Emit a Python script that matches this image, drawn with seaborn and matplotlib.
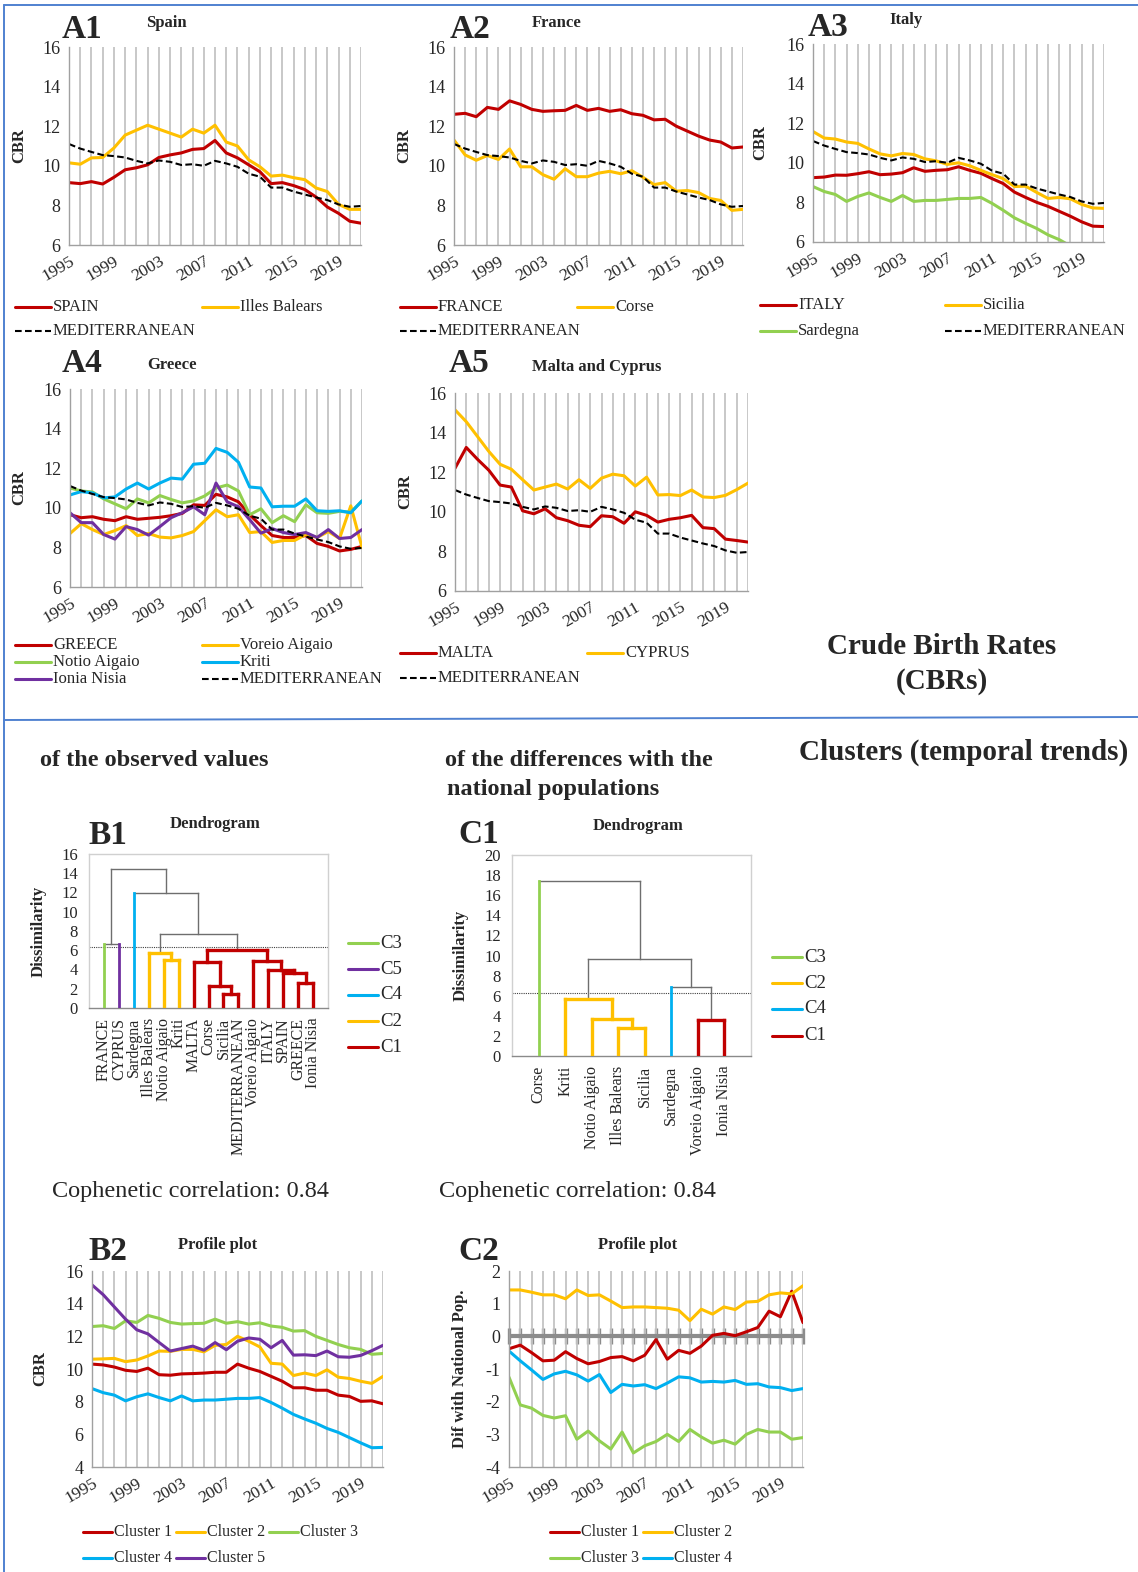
import numpy as np
import matplotlib
matplotlib.use("Agg")
import matplotlib.pyplot as plt
from matplotlib.lines import Line2D
import seaborn as sns

# ---------------------------------------------------------------- data
years = list(range(1995, 2022))
year_labels = [str(y) if (y - 1995) % 4 == 0 else "" for y in years]

mediterranean = [11.1, 10.87, 10.7, 10.54, 10.49, 10.42, 10.25, 10.12, 10.27, 10.2, 10.04, 10.08,
                 10.0, 10.25, 10.12, 9.95, 9.6, 9.45, 8.9, 8.9, 8.7, 8.55, 8.4, 8.27, 8.05, 7.93, 7.97]
spain = [9.15, 9.1, 9.2, 9.08, 9.42, 9.8, 9.9, 10.05, 10.42, 10.55, 10.65, 10.83, 10.87, 11.28,
         10.65, 10.4, 10.05, 9.7, 9.1, 9.15, 9.0, 8.8, 8.42, 7.92, 7.6, 7.2, 7.1]
illes_balears = [10.15, 10.08, 10.4, 10.42, 10.9, 11.55, 11.8, 12.05, 11.85, 11.65, 11.45, 11.85,
                 11.65, 12.05, 11.2, 11.0, 10.3, 9.95, 9.48, 9.53, 9.4, 9.3, 8.88, 8.7, 8.05, 7.8, 7.8]
france = [12.6, 12.65, 12.48, 12.95, 12.85, 13.28, 13.1, 12.85, 12.75, 12.78, 12.8, 13.05, 12.8,
          12.9, 12.75, 12.83, 12.63, 12.55, 12.32, 12.35, 12.0, 11.75, 11.5, 11.3, 11.2, 10.9, 10.95]
corse = [11.3, 10.55, 10.28, 10.52, 10.32, 10.85, 9.95, 9.95, 9.55, 9.32, 9.85, 9.45, 9.45, 9.63,
         9.72, 9.6, 9.75, 9.42, 9.05, 9.15, 8.72, 8.75, 8.65, 8.35, 8.25, 7.75, 7.8]
italy = [9.25, 9.28, 9.38, 9.37, 9.45, 9.55, 9.4, 9.43, 9.5, 9.75, 9.57, 9.62, 9.65, 9.8, 9.62,
         9.47, 9.2, 8.95, 8.52, 8.25, 8.0, 7.8, 7.55, 7.3, 7.02, 6.8, 6.78]
sicilia = [11.58, 11.25, 11.2, 11.05, 10.98, 10.7, 10.45, 10.35, 10.47, 10.42, 10.2, 10.1, 9.92,
           10.0, 9.85, 9.62, 9.4, 9.2, 8.8, 8.82, 8.5, 8.2, 8.25, 8.18, 7.9, 7.72, 7.7]
sardegna = [8.8, 8.55, 8.4, 8.05, 8.3, 8.48, 8.25, 8.05, 8.35, 8.05, 8.1, 8.1, 8.15, 8.2, 8.2,
            8.25, 7.95, 7.6, 7.22, 6.94, 6.68, 6.36, 6.12, 5.8, 5.48, 5.18, 5.2]
greece = [9.65, 9.5, 9.55, 9.42, 9.35, 9.55, 9.42, 9.47, 9.52, 9.6, 9.72, 10.15, 10.12, 10.68,
          10.55, 10.3, 9.65, 9.1, 8.6, 8.5, 8.5, 8.6, 8.2, 8.05, 7.82, 7.9, 8.05]
voreio_aigaio = [8.7, 9.2, 8.9, 8.65, 8.85, 9.1, 8.6, 8.7, 8.52, 8.48, 8.6, 8.8, 9.35, 9.9, 9.55,
                 9.65, 8.75, 8.8, 8.25, 8.35, 8.35, 8.65, 8.5, 8.8, 8.45, 10.1, 8.0]
notio_aigaio = [11.0, 10.85, 10.8, 10.45, 10.2, 9.95, 10.45, 10.25, 10.62, 10.42, 10.25, 10.35,
                10.6, 11.0, 11.15, 10.85, 9.65, 9.95, 9.25, 9.6, 9.3, 10.15, 9.75, 9.72, 9.82, 9.78, 10.35]
kriti = [10.65, 10.82, 10.75, 10.5, 10.55, 10.95, 11.25, 10.95, 11.25, 11.5, 11.45, 12.2, 12.25,
         13.0, 12.8, 12.3, 11.05, 11.0, 10.05, 10.08, 10.08, 10.45, 9.85, 9.82, 9.85, 9.75, 10.35]
ionia_nisia = [9.75, 9.25, 9.25, 8.65, 8.42, 9.05, 8.9, 8.62, 9.05, 9.5, 9.75, 10.05, 9.65, 11.25,
               10.3, 10.05, 9.4, 8.72, 8.95, 8.75, 8.65, 8.75, 8.5, 8.9, 8.45, 8.5, 8.9]
malta = [12.2, 13.25, 12.65, 12.1, 11.35, 11.25, 10.05, 9.9, 10.15, 9.7, 9.55, 9.32, 9.25, 9.8,
         9.75, 9.42, 10.0, 9.82, 9.48, 9.62, 9.7, 9.82, 9.2, 9.15, 8.62, 8.55, 8.47]
cyprus = [15.15, 14.55, 13.8, 13.05, 12.4, 12.15, 11.62, 11.1, 11.25, 11.4, 11.15, 11.62, 11.18,
          11.7, 11.9, 11.82, 11.3, 11.75, 10.85, 10.87, 10.82, 11.1, 10.75, 10.72, 10.83, 11.12, 11.45]

# cluster profiles of the observed values (clusters 3, 4, 5 are single regions)
obs_cluster1 = [10.3, 10.25, 10.12, 9.92, 9.85, 10.05, 9.65, 9.62, 9.7, 9.72, 9.75, 9.8, 9.8, 10.3,
                10.05, 9.85, 9.55, 9.25, 8.85, 8.85, 8.7, 8.7, 8.4, 8.32, 8.02, 8.05, 7.87]
obs_cluster2 = [10.6, 10.62, 10.65, 10.45, 10.55, 10.8, 11.1, 11.08, 11.2, 11.2, 11.05, 11.45, 11.5,
                12.0, 11.7, 11.35, 10.35, 10.3, 9.6, 9.75, 9.6, 9.95, 9.5, 9.42, 9.25, 9.12, 9.55]
obs_cluster3 = france
obs_cluster4 = sardegna
obs_cluster5 = cyprus

# cluster profiles of the differences with the national population
dif_cluster1 = [-0.38, -0.27, -0.5, -0.75, -0.73, -0.47, -0.68, -0.84, -0.77, -0.65, -0.62, -0.75,
                -0.58, -0.1, -0.7, -0.43, -0.52, -0.3, 0.03, 0.09, 0.02, 0.14, 0.27, 0.77, 0.6, 1.38, 0.42]
dif_cluster2 = [1.42, 1.42, 1.35, 1.27, 1.27, 1.15, 1.42, 1.25, 1.27, 1.08, 0.88, 0.9, 0.9, 0.88,
                0.86, 0.8, 0.48, 0.83, 0.68, 0.9, 0.82, 1.05, 1.07, 1.27, 1.33, 1.3, 1.55]
dif_cluster3 = [-1.25, -2.1, -2.2, -2.42, -2.5, -2.43, -3.15, -2.9, -3.2, -3.45, -2.93, -3.57, -3.35,
                -3.22, -3.0, -3.22, -2.85, -3.08, -3.27, -3.18, -3.3, -3.0, -2.85, -2.93, -2.93, -3.15, -3.1]
dif_cluster4 = [-0.45, -0.75, -1.03, -1.32, -1.15, -1.07, -1.18, -1.37, -1.17, -1.72, -1.47, -1.52,
                -1.48, -1.6, -1.43, -1.24, -1.27, -1.4, -1.38, -1.4, -1.35, -1.47, -1.45, -1.55, -1.57, -1.66, -1.6]

# dendrogram of the observed values: leaves, cluster of each leaf, merges (a, b, height)
obs_leaves = ["FRANCE", "CYPRUS", "Sardegna", "Illes Balears", "Notio Aigaio", "Kriti", "MALTA",
              "Corse", "Sicilia", "MEDITERRANEAN", "Voreio Aigaio", "ITALY", "SPAIN", "GREECE",
              "Ionia Nisia"]
obs_leaf_cluster = [3, 5, 4, 2, 2, 2, 1, 1, 1, 1, 1, 1, 1, 1, 1]
obs_merges = [(0, 1, 6.64), (4, 5, 5.0), (3, 16, 5.7), (8, 9, 1.45), (7, 18, 2.25), (6, 19, 4.78),
              (13, 14, 2.63), (12, 21, 3.67), (11, 22, 3.9), (10, 23, 4.88), (20, 24, 6.05),
              (17, 25, 7.68), (2, 26, 11.9), (15, 27, 14.43)]
obs_cut = 6.33

dif_leaves = ["Corse", "Kriti", "Notio Aigaio", "Illes Balears", "Sicilia", "Sardegna",
              "Voreio Aigaio", "Ionia Nisia"]
dif_leaf_cluster = [3, 2, 2, 2, 2, 4, 1, 1]
dif_merges = [(3, 4, 2.76), (2, 8, 3.72), (1, 9, 5.65), (6, 7, 3.55), (5, 11, 6.91),
              (10, 12, 9.63), (0, 13, 17.4)]
dif_cut = 6.28

# ---------------------------------------------------------------- style
sns.set_style("white")
plt.rcParams["font.family"] = ["Liberation Serif", "DejaVu Serif"]
plt.rcParams["axes.linewidth"] = 1.0

RED, YEL, GRN, BLU, PUR = "#c00000", "#ffc000", "#92d050", "#00b0f0", "#7030a0"
CLUSTER_COLORS = {1: RED, 2: YEL, 3: GRN, 4: BLU, 5: PUR}
GRID = "#c4c4c4"
AXC = "#a0a0a0"
FRAME = "#4f81d0"
DASH = (0, (3.2, 1.6))
TICK_FS = 13
YEAR_FS = 12.5
LEG_FS = 12
CLUSTER_LEG_FS = 11.5

W, H = 1138, 1572
fig = plt.figure(figsize=(W / 100, H / 100), dpi=100)


def fx(x):
    return x / W


def fy(y):
    return 1 - y / H


def add_axes_px(left, top, right, bottom):
    return fig.add_axes([fx(left), fy(bottom), (right - left) / W, (bottom - top) / H])


def ftext(x, y, s, **kw):
    kw.setdefault("va", "center")
    kw.setdefault("ha", "left")
    fig.text(fx(x), fy(y), s, **kw)


def legend_entry(x, y, label, color, ls="-", length=36, size=LEG_FS, lw=2.2):
    fig.add_artist(Line2D([fx(x), fx(x + length)], [fy(y), fy(y)], transform=fig.transFigure,
                          color=color, lw=lw, ls=ls))
    ftext(x + length + 2, y, label, fontsize=size)


def time_axes(box, ylim, yticks, ylabel, ylabel_x):
    ax = add_axes_px(*box)
    ax.set_xlim(0, len(years) - 1)
    ax.set_ylim(*ylim)
    ax.set_xticks(range(len(years)))
    ax.set_xticklabels(year_labels, rotation=30, ha="right", va="top", rotation_mode="anchor",
                       fontsize=YEAR_FS)
    ax.set_yticks(yticks)
    ax.set_yticklabels([f"{t:g}" for t in yticks], fontsize=TICK_FS)
    ax.grid(axis="x", color=GRID, lw=1.3)
    ax.grid(axis="y", visible=False)
    ax.set_axisbelow(True)
    for s in ("top", "right"):
        ax.spines[s].set_visible(False)
    for s in ("left", "bottom"):
        ax.spines[s].set_color(AXC)
    ax.tick_params(axis="both", direction="out", length=4, width=1, color=AXC, pad=2)
    ax.set_ylabel(ylabel, fontsize=12, fontweight="bold")
    ax.yaxis.set_label_coords((ylabel_x - box[0]) / (box[2] - box[0]), 0.5)
    return ax


def series(ax, values, color, ls="-", lw=2.2):
    if ls == "-":
        sns.lineplot(x=np.arange(len(values)), y=values, ax=ax, color=color, lw=lw,
                     errorbar=None, legend=False)
    else:
        sns.lineplot(x=np.arange(len(values)), y=values, ax=ax, color=color, lw=1.5,
                     linestyle=ls, errorbar=None, legend=False)


def panel_head(letter, lx, ly, title, tx, ty):
    ftext(lx, ly, letter, fontsize=24, fontweight="bold")
    ftext(tx, ty, title, fontsize=12, fontweight="bold", ha="center")


# ---------------------------------------------------------------- A1 Spain
ax = time_axes((69, 47, 361, 245), (6, 16), range(6, 17, 2), "CBR", 27)
series(ax, spain, RED)
series(ax, illes_balears, YEL)
series(ax, mediterranean, "black", DASH)
panel_head("A1", 62, 30, "Spain", 166, 23)
legend_entry(15, 307, "SPAIN", RED)
legend_entry(202, 307, "Illes Balears", YEL)
legend_entry(15, 331, "MEDITERRANEAN", "black", DASH, lw=1.5)

# ---------------------------------------------------------------- A2 France
ax = time_axes((454, 47, 743, 245), (6, 16), range(6, 17, 2), "CBR", 412)
series(ax, france, RED)
series(ax, corse, YEL)
series(ax, mediterranean, "black", DASH)
panel_head("A2", 450, 30, "France", 557, 23)
legend_entry(400, 307, "FRANCE", RED)
legend_entry(577, 307, "Corse", YEL)
legend_entry(400, 331, "MEDITERRANEAN", "black", DASH, lw=1.5)

# ---------------------------------------------------------------- A3 Italy
ax = time_axes((813, 44, 1104, 242), (6, 16), range(6, 17, 2), "CBR", 768)
series(ax, italy, RED)
series(ax, sicilia, YEL)
series(ax, sardegna, GRN)
series(ax, mediterranean, "black", DASH)
panel_head("A3", 808, 28, "Italy", 906, 20)
legend_entry(760, 305, "ITALY", RED)
legend_entry(945, 305, "Sicilia", YEL)
legend_entry(760, 331, "Sardegna", GRN)
legend_entry(945, 331, "MEDITERRANEAN", "black", DASH, lw=1.5)

# ---------------------------------------------------------------- A4 Greece
ax = time_axes((70, 389, 362, 587), (6, 16), range(6, 17, 2), "CBR", 27)
series(ax, greece, RED)
series(ax, voreio_aigaio, YEL)
series(ax, notio_aigaio, GRN)
series(ax, kriti, BLU)
series(ax, ionia_nisia, PUR)
series(ax, mediterranean, "black", DASH)
panel_head("A4", 62, 363, "Greece", 172, 365)
legend_entry(15, 645, "GREECE", RED)
legend_entry(202, 645, "Voreio Aigaio", YEL)
legend_entry(15, 662, "Notio Aigaio", GRN)
legend_entry(202, 662, "Kriti", BLU)
legend_entry(15, 679, "Ionia Nisia", PUR)
legend_entry(202, 679, "MEDITERRANEAN", "black", DASH, lw=1.5)

# ---------------------------------------------------------------- A5 Malta and Cyprus
ax = time_axes((455, 393, 748, 591), (6, 16), range(6, 17, 2), "CBR", 413)
series(ax, malta, RED)
series(ax, cyprus, YEL)
series(ax, mediterranean, "black", DASH)
panel_head("A5", 449, 363, "Malta and Cyprus", 597, 367)
legend_entry(400, 653, "MALTA", RED)
legend_entry(587, 653, "CYPRUS", YEL)
legend_entry(400, 678, "MEDITERRANEAN", "black", DASH, lw=1.5)

ftext(942, 646, "Crude Birth Rates", fontsize=21, fontweight="bold", ha="center")
ftext(942, 681, "(CBRs)", fontsize=21, fontweight="bold", ha="center")

# ---------------------------------------------------------------- section headings
ftext(40, 760, "of the observed values", fontsize=17.5, fontweight="bold")
ftext(445, 760, "of the differences with the", fontsize=17.5, fontweight="bold")
ftext(447, 790, "national populations", fontsize=17.5, fontweight="bold")
ftext(964, 752, "Clusters (temporal trends)", fontsize=21, fontweight="bold", ha="center")
ftext(190, 1192, "Cophenetic correlation: 0.84", fontsize=17.5, ha="center")
ftext(577, 1192, "Cophenetic correlation: 0.84", fontsize=17.5, ha="center")


# ---------------------------------------------------------------- dendrograms
def dendrogram(ax, leaves, leaf_cluster, merges, cut):
    n = len(leaves)
    xpos = {i: float(i + 1) for i in range(n)}
    hgt = {i: 0.0 for i in range(n)}
    node_cluster = {i: leaf_cluster[i] for i in range(n)}
    gray = "#6e6e6e"
    for k, (a, b, h) in enumerate(merges):
        node = n + k
        below = h <= cut
        for child in (a, b):
            if below:
                col, lw = CLUSTER_COLORS[node_cluster[child]], 2.4
            elif child < n:
                col, lw = CLUSTER_COLORS[leaf_cluster[child]], 2.0
            else:
                col, lw = gray, 1.0
            ax.plot([xpos[child], xpos[child]], [hgt[child], h], color=col, lw=lw,
                    solid_capstyle="projecting", zorder=3 if col != gray else 2)
        hcol, hlw = (CLUSTER_COLORS[node_cluster[a]], 2.4) if below else (gray, 1.0)
        ax.plot([xpos[a], xpos[b]], [h, h], color=hcol, lw=hlw,
                solid_capstyle="projecting", zorder=3 if below else 2)
        xpos[node] = (xpos[a] + xpos[b]) / 2
        hgt[node] = h
        node_cluster[node] = node_cluster[a]
    ax.axhline(cut, color="#404040", lw=0.8, ls=(0, (1, 1)), zorder=1)
    ax.set_xlim(0, n + 1)
    ax.set_xticks([i + 1 for i in range(n)])
    ax.set_xticklabels(leaves, rotation=90, ha="center", va="top", fontsize=11.5)
    ax.tick_params(axis="x", length=0, pad=7)
    ax.tick_params(axis="y", direction="out", length=6, color=AXC, labelsize=12, pad=2)
    for s in ax.spines.values():
        s.set_color("#d0d0d0")
    ax.spines["bottom"].set_color("#8a8a8a")
    ax.grid(False)


ax = add_axes_px(89, 854, 328, 1008)
ax.set_ylim(0, 16)
ax.set_yticks(range(0, 17, 2))
dendrogram(ax, obs_leaves, obs_leaf_cluster, obs_merges, obs_cut)
ax.set_ylabel("Dissimilarity", fontsize=12, fontweight="bold")
ax.yaxis.set_label_coords((47 - 89) / (328 - 89), 0.5)
panel_head("B1", 88, 835, "Dendrogram", 215, 824)
for yy, c in zip([943, 969, 995, 1021, 1047], [3, 5, 4, 2, 1]):
    legend_entry(348, yy, f"C{c}", CLUSTER_COLORS[c], length=30, size=13.5)

ax = add_axes_px(512, 855, 751, 1056)
ax.set_ylim(0, 20)
ax.set_yticks(range(0, 21, 2))
dendrogram(ax, dif_leaves, dif_leaf_cluster, dif_merges, dif_cut)
ax.set_ylabel("Dissimilarity", fontsize=12, fontweight="bold")
ax.yaxis.set_label_coords((469 - 512) / (751 - 512), 0.5)
panel_head("C1", 458, 834, "Dendrogram", 638, 826)
for yy, c in zip([957, 983, 1009, 1036], [3, 2, 4, 1]):
    legend_entry(772, yy, f"C{c}", CLUSTER_COLORS[c], length=30, size=13.5)

# ---------------------------------------------------------------- B2 profile plot
ax = time_axes((92, 1271, 383, 1467), (4, 16), range(4, 17, 2), "CBR", 48)
for vals, c in zip([obs_cluster1, obs_cluster2, obs_cluster3, obs_cluster4, obs_cluster5],
                   [1, 2, 3, 4, 5]):
    series(ax, vals, CLUSTER_COLORS[c])
panel_head("B2", 88, 1251, "Profile plot", 218, 1245)
legend_entry(83, 1532, "Cluster 1", RED, length=29, size=CLUSTER_LEG_FS)
legend_entry(176, 1532, "Cluster 2", YEL, length=29, size=CLUSTER_LEG_FS)
legend_entry(269, 1532, "Cluster 3", GRN, length=29, size=CLUSTER_LEG_FS)
legend_entry(83, 1558, "Cluster 4", BLU, length=29, size=CLUSTER_LEG_FS)
legend_entry(176, 1558, "Cluster 5", PUR, length=29, size=CLUSTER_LEG_FS)

# ---------------------------------------------------------------- C2 profile plot
ax = time_axes((509, 1271, 803, 1467), (-4, 2), range(-4, 3, 1), "Dif with National Pop.", 468)
ax.axhline(0, color="#8c8c8c", lw=3, zorder=1.5)
zero_axis = ax.secondary_xaxis(4 / 6)
zero_axis.set_xticks(range(len(years)))
zero_axis.set_xticklabels([])
zero_axis.tick_params(direction="inout", length=11, width=2.4, color="#8c8c8c")
for s in zero_axis.spines.values():
    s.set_visible(False)
for vals, c in zip([dif_cluster1, dif_cluster2, dif_cluster3, dif_cluster4], [1, 2, 3, 4]):
    series(ax, vals, CLUSTER_COLORS[c])
panel_head("C2", 458, 1251, "Profile plot", 638, 1245)
legend_entry(550, 1532, "Cluster 1", RED, length=29, size=CLUSTER_LEG_FS)
legend_entry(643, 1532, "Cluster 2", YEL, length=29, size=CLUSTER_LEG_FS)
legend_entry(550, 1558, "Cluster 3", GRN, length=29, size=CLUSTER_LEG_FS)
legend_entry(643, 1558, "Cluster 4", BLU, length=29, size=CLUSTER_LEG_FS)

# ---------------------------------------------------------------- frame lines
for xs, ys in [([4, W], [5, 5]), ([4, 4], [5, H]), ([4, W], [720, 717])]:
    fig.add_artist(Line2D([fx(v) for v in xs], [fy(v) for v in ys], transform=fig.transFigure,
                          color=FRAME, lw=1.4))

fig.savefig("out.png", dpi=100, facecolor="white")
